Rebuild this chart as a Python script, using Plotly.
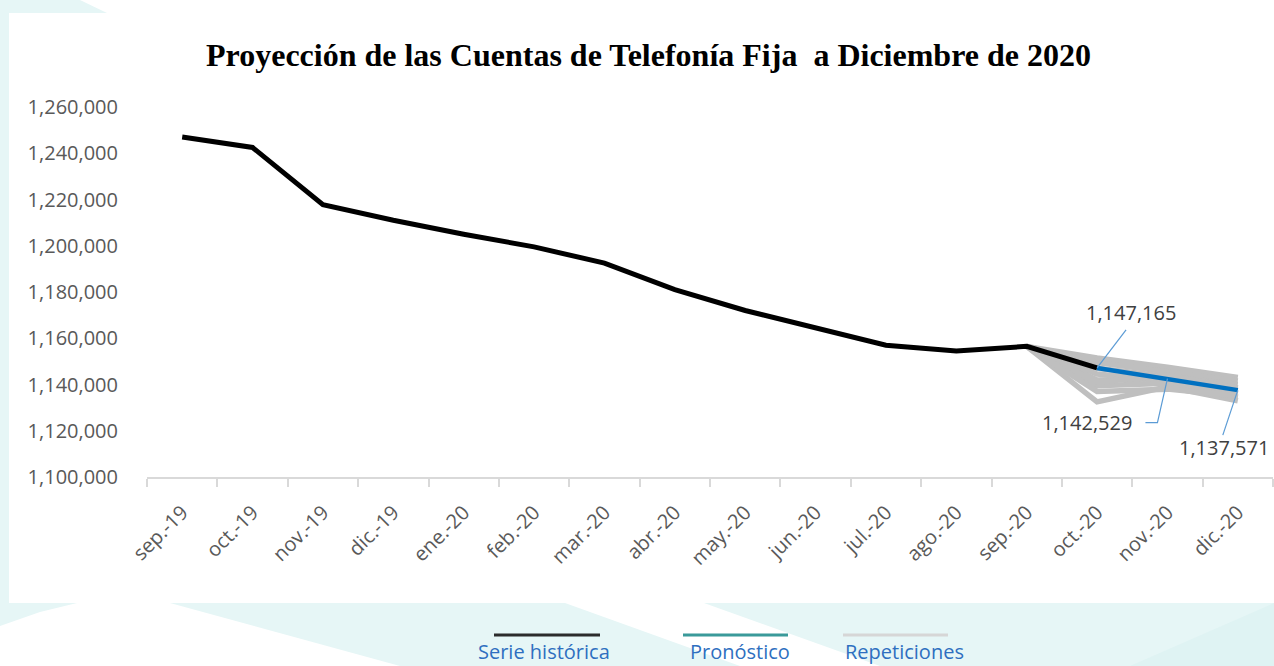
import plotly.graph_objects as go

# --- data -------------------------------------------------------------
meses = ["sep.-19", "oct.-19", "nov.-19", "dic.-19", "ene.-20", "feb.-20",
         "mar.-20", "abr.-20", "may.-20", "jun.-20", "jul.-20", "ago.-20",
         "sep.-20", "oct.-20", "nov.-20", "dic.-20"]

serie_historica = [1247000, 1242500, 1217800, 1211000, 1205000, 1199500,
                   1192500, 1181000, 1172000, 1164500, 1157000, 1154500,
                   1156500, 1147165]

# forecast runs from oct.-20 to dic.-20
pronostico_meses = ["oct.-20", "nov.-20", "dic.-20"]
pronostico = [1147165, 1142529, 1137571]

# simulated repetitions, from sep.-20 to dic.-20
repeticiones_meses = ["sep.-20", "oct.-20", "nov.-20", "dic.-20"]
repeticiones = [
    [1156500, 1151500, 1147500, 1143000],
    [1156500, 1149500, 1145500, 1141500],
    [1156500, 1147000, 1143500, 1140000],
    [1156500, 1144500, 1141500, 1137500],
    [1156500, 1142000, 1142500, 1136000],
    [1156500, 1139500, 1140500, 1134500],
    [1156500, 1132500, 1139000, 1133000],
    [1156500, 1141000, 1144000, 1138500],
    [1156500, 1137000, 1138000, 1135000],
]

y_ticks = list(range(1100000, 1260001, 20000))

# --- figure geometry ---------------------------------------------------
W, H = 1274, 666
ML, MR, MT, MB = 147, 1, 107, 189
PW, PH = W - ML - MR, H - MT - MB

CYAN = "#e6f6f6"
WHITE = "#ffffff"
TICK_FONT = dict(family="Open Sans", size=20, color="#595959")


def px(x, y):
    """Figure pixel -> paper coordinates."""
    return (x - ML) / PW, (H - MB - y) / PH


def poly(points, color):
    parts = []
    for i, (x, y) in enumerate(points):
        u, v = px(x, y)
        parts.append(("M" if i == 0 else "L") + f" {u:.5f},{v:.5f}")
    return dict(type="path", xref="paper", yref="paper", layer="below",
                path=" ".join(parts) + " Z", fillcolor=color,
                line=dict(width=0))


idx = {m: i for i, m in enumerate(meses)}

fig = go.Figure()

for rep in repeticiones:
    fig.add_trace(go.Scatter(
        x=[idx[m] for m in repeticiones_meses], y=rep, mode="lines",
        line=dict(color="#bfbfbf", width=5.5), showlegend=False,
        hoverinfo="skip"))

fig.add_trace(go.Scatter(
    x=list(range(len(serie_historica))), y=serie_historica, mode="lines",
    line=dict(color="#000000", width=5), name="Serie histórica",
    showlegend=False))

fig.add_trace(go.Scatter(
    x=[idx[m] for m in pronostico_meses], y=pronostico, mode="lines",
    line=dict(color="#0070c0", width=4.5), name="Pronóstico",
    showlegend=False))

# --- background panels -------------------------------------------------
shapes = [
    # white chart panel
    poly([(80, 0), (W, 0), (W, 603), (9, 603), (9, 13), (107, 13)], WHITE),
    # white diagonal bands in the footer
    poly([(77, 603), (170, 603), (400, 666), (0, 666), (0, 626),
          (40, 612)], WHITE),
    poly([(565, 603), (704, 603), (880, 666), (740, 666)], WHITE),
    poly([(1130, 666), (W, 603), (W, 666)], "#dff3f3"),
]

# leader lines from value labels to the forecast points
leaders = [
    (pronostico_meses[0], pronostico[0], "M 0 0 L 29 38"),
    (pronostico_meses[1], pronostico[1], "M 0 0 L -10 -44 L -22 -44"),
    (pronostico_meses[2], pronostico[2], "M 0 0 L -15 -45"),
]
for m, v, p in leaders:
    shapes.append(dict(type="path", xref="x", yref="y",
                       xsizemode="pixel", ysizemode="pixel",
                       xanchor=idx[m], yanchor=v, path=p,
                       line=dict(color="#5b9bd5", width=1.2)))

# legend swatches (line above each label)
legend_items = [
    ("Serie histórica", "#2b2b2b", 494, 600, 544),
    ("Pronóstico", "#3a9a9a", 683, 788, 740),
    ("Repeticiones", "#d6d6d6", 843, 948, 904),
]
annotations = []
for label, color, x0, x1, xc in legend_items:
    u0, v0 = px(x0, 635)
    u1, _ = px(x1, 635)
    shapes.append(dict(type="line", xref="paper", yref="paper",
                       x0=u0, x1=u1, y0=v0, y1=v0,
                       line=dict(color=color, width=3)))
    uc, vc = px(xc, 651)
    annotations.append(dict(xref="paper", yref="paper", x=uc, y=vc,
                            text=label, showarrow=False,
                            xanchor="center", yanchor="middle",
                            font=dict(family="Open Sans", size=20,
                                      color="#2e6fc0")))

# value labels
label_shift = [(34, 55), (-80, -44), (-14, -57)]
for m, v, (dx, dy) in zip(pronostico_meses, pronostico, label_shift):
    annotations.append(dict(x=idx[m], y=v, xref="x", yref="y",
                            text=f"{v:,}", showarrow=False,
                            xshift=dx, yshift=dy,
                            font=dict(family="Open Sans", size=20,
                                      color="#404040")))

# title
tu, tv = px(648, 55)
annotations.append(dict(
    xref="paper", yref="paper", x=tu, y=tv, showarrow=False,
    xanchor="center", yanchor="middle",
    text="<b>Proyección de las Cuentas de Telefonía Fija\u00a0 a Diciembre de 2020</b>",
    font=dict(family="Liberation Serif", size=32, color="#000000")))

fig.update_layout(
    width=W, height=H,
    margin=dict(l=ML, r=MR, t=MT, b=MB, pad=0),
    paper_bgcolor=CYAN,
    plot_bgcolor="rgba(0,0,0,0)",
    shapes=shapes,
    annotations=annotations,
    showlegend=False,
    xaxis=dict(
        range=[-0.5, len(meses) - 0.5], tickmode="array",
        tickvals=list(range(len(meses))), ticktext=meses,
        tickangle=-45, ticks="", showgrid=False, zeroline=False,
        showline=True, linecolor="#d9d9d9", linewidth=1.5,
        tickfont=TICK_FONT, ticklabelstandoff=14,
        minor=dict(tickmode="linear", tick0=-0.5, dtick=1,
                   ticks="outside", ticklen=8, tickcolor="#d9d9d9",
                   tickwidth=1.5, showgrid=False),
    ),
    yaxis=dict(
        range=[1100000, 1260000], tickmode="array", tickvals=y_ticks,
        tickformat=",", ticks="", showgrid=False, zeroline=False,
        showline=False, tickfont=TICK_FONT, ticklabelstandoff=28,
    ),
)

fig.write_html("out.html")
